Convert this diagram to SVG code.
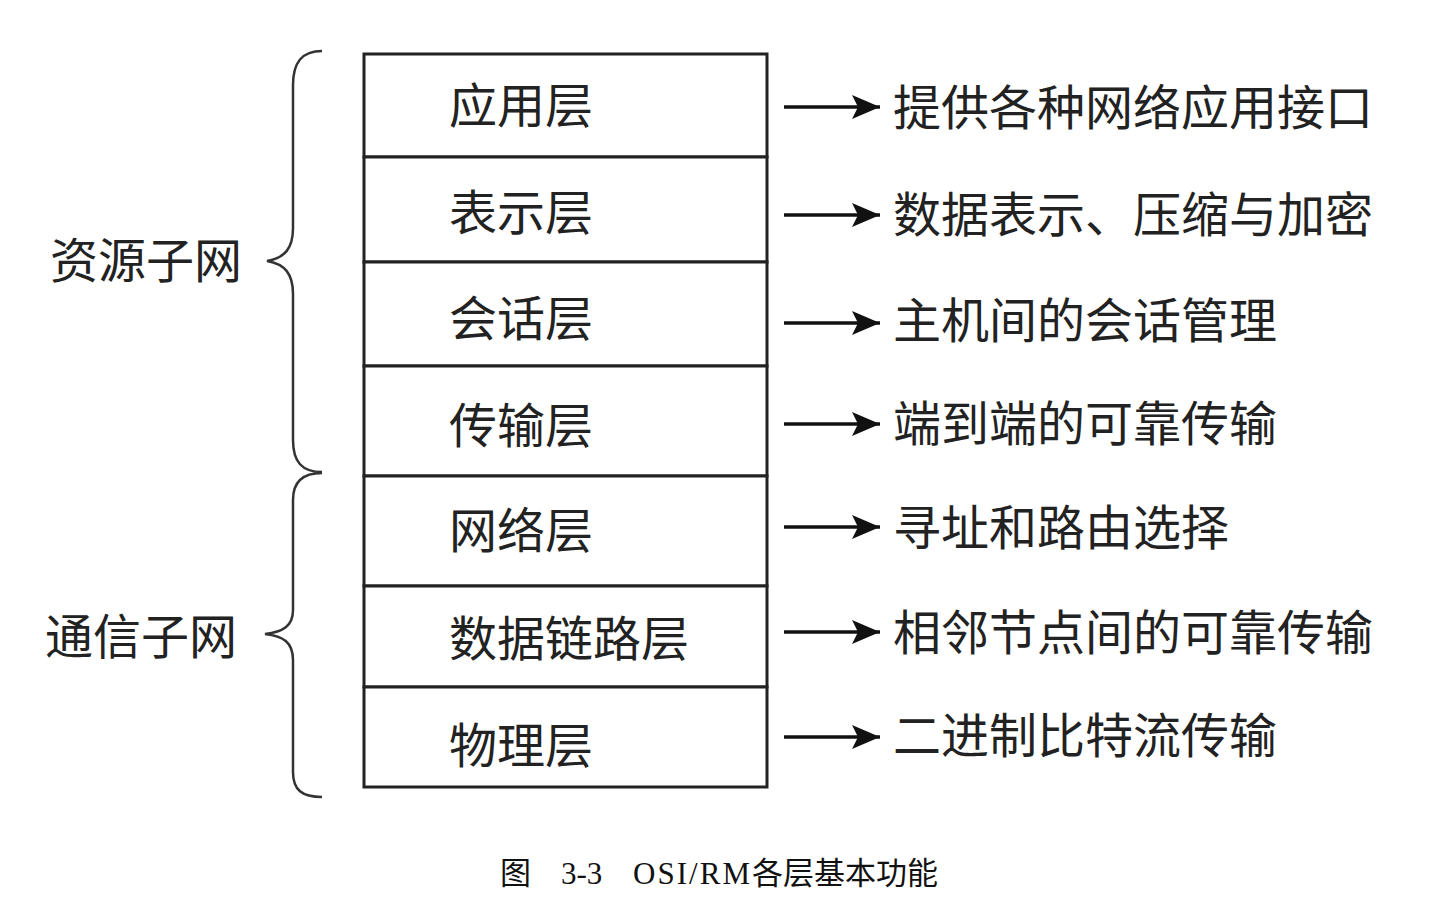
<svg xmlns="http://www.w3.org/2000/svg" width="1434" height="902" viewBox="0 0 1434 902">
<style>
.t{font-family:"Noto Sans CJK SC","Noto Sans CJK JP",sans-serif;font-size:48px;fill:#222;dominant-baseline:central}
.box{fill:#fff;stroke:#222;stroke-width:3}
.br{fill:none;stroke:#333;stroke-width:2.5}
.ar{stroke:#111;stroke-width:3.5;fill:none}
.cap{font-family:"Liberation Serif","Noto Sans CJK SC",serif;font-size:31px;fill:#111}
.capc{font-family:"Noto Sans CJK SC",sans-serif;font-size:31px;fill:#111}
</style>
<defs>
<marker id="ah" markerWidth="30" markerHeight="26" refX="28" refY="12" markerUnits="userSpaceOnUse" orient="auto">
<path d="M0,0 L28,12 L0,24 L6,12 Z" fill="#111"/>
</marker>
</defs>
<rect width="1434" height="902" fill="#fff"/>
<g id="braces">
<path class="br" d="M322,51 C302,51 293,62 293,85 L293,228 C293,248 285,258 267,261 C285,264 293,274 293,294 L293,440 C293,462 302,472 322,472"/>
<path class="br" d="M322,473 C302,473 293,482 293,500 L293,610 C293,626 283,632 265,634 C283,636 293,642 293,660 L293,772 C293,790 302,797 322,797"/>
<text class="t" x="50" y="257">资源子网</text>
<text class="t" x="45" y="633">通信子网</text>
</g>
<g id="layer-app"><rect class="box" x="364" y="54" width="403" height="103"/><text class="t" x="449" y="102">应用层</text></g>
<g id="layer-pres"><rect class="box" x="364" y="157" width="403" height="105"/><text class="t" x="449" y="209">表示层</text></g>
<g id="layer-sess"><rect class="box" x="364" y="262" width="403" height="104"/><text class="t" x="449" y="315">会话层</text></g>
<g id="layer-trans"><rect class="box" x="364" y="366" width="403" height="110"/><text class="t" x="449" y="422">传输层</text></g>
<g id="layer-net"><rect class="box" x="364" y="476" width="403" height="110"/><text class="t" x="449" y="527">网络层</text></g>
<g id="layer-link"><rect class="box" x="364" y="586" width="403" height="101"/><text class="t" x="449" y="635">数据链路层</text></g>
<g id="layer-phys"><rect class="box" x="364" y="687" width="403" height="100"/><text class="t" x="449" y="742">物理层</text></g>
<g id="connectors">
<line class="ar" x1="784" y1="107" x2="880" y2="107" marker-end="url(#ah)"/>
<line class="ar" x1="784" y1="215" x2="880" y2="215" marker-end="url(#ah)"/>
<line class="ar" x1="784" y1="323" x2="880" y2="323" marker-end="url(#ah)"/>
<line class="ar" x1="784" y1="424" x2="880" y2="424" marker-end="url(#ah)"/>
<line class="ar" x1="784" y1="527" x2="880" y2="527" marker-end="url(#ah)"/>
<line class="ar" x1="784" y1="632" x2="880" y2="632" marker-end="url(#ah)"/>
<line class="ar" x1="784" y1="737" x2="880" y2="737" marker-end="url(#ah)"/>
</g>
<g id="functions">
<text class="t" x="893" y="104">提供各种网络应用接口</text>
<text class="t" x="893" y="211">数据表示、压缩与加密</text>
<text class="t" x="893" y="317">主机间的会话管理</text>
<text class="t" x="893" y="420">端到端的可靠传输</text>
<text class="t" x="893" y="524">寻址和路由选择</text>
<text class="t" x="893" y="629">相邻节点间的可靠传输</text>
<text class="t" x="893" y="732">二进制比特流传输</text>
</g>
<g id="caption">
<text class="capc" x="500" y="884">图</text>
<text class="cap" x="561" y="884">3-3</text>
<text class="cap" x="633" y="884" textLength="117" lengthAdjust="spacing">OSI/RM</text>
<text class="capc" x="752" y="884">各层基本功能</text>
</g>
</svg>
